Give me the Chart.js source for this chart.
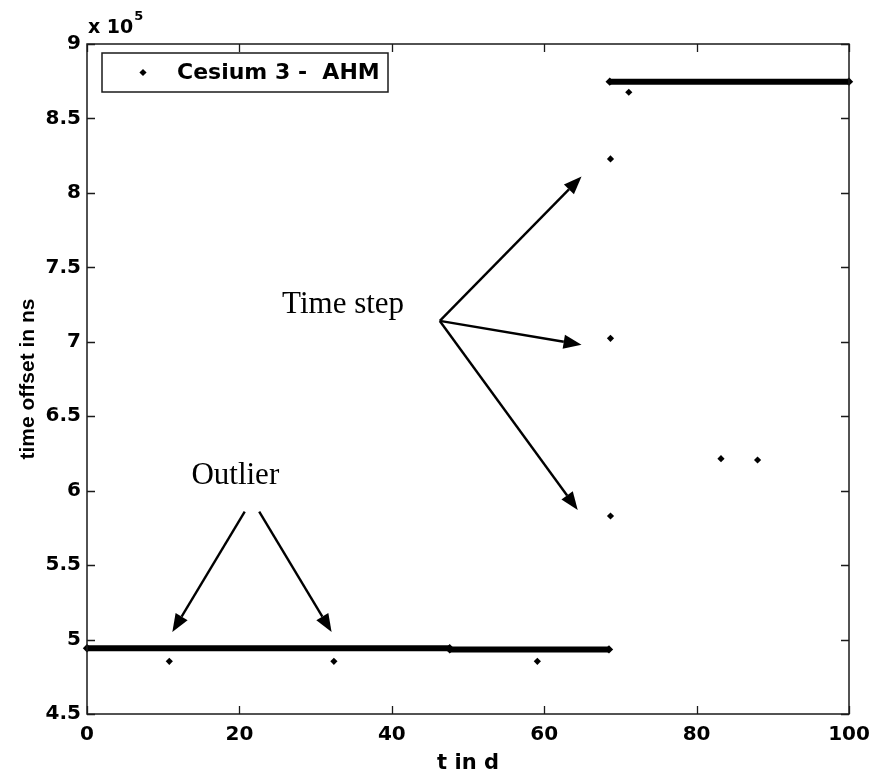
<!DOCTYPE html>
<html>
<head>
<meta charset="utf-8">
<script src="https://cdn.jsdelivr.net/npm/chart.js@4.4.1/dist/chart.umd.min.js"></script>
<style>
html,body{margin:0;padding:0;background:#fff;}
#wrap{width:872px;height:780px;position:relative;}
</style>
</head>
<body>
<div id="wrap"><canvas id="c" width="872" height="780"></canvas></div>
<script>
// ---- Data (time offset in units of 1e5 ns, t in days) ----
const seriesLabel = 'Cesium 3 -  AHM';
// dense runs of daily readings, drawn as thick bands (start day, end day, offset)
const bandStartDay = [0, 47.6, 68.6];
const bandEndDay   = [47.6, 68.5, 100];
const bandOffset   = [4.942, 4.934, 8.747];
// isolated readings
const pointDay    = [10.8, 32.4, 59.1, 68.7, 68.7, 68.7, 71.1, 83.2, 88.0];
const pointOffset = [4.854, 4.854, 4.854, 5.83, 7.023, 8.228, 8.676, 6.215, 6.206];
// axis ticks
const xTicks = [0, 20, 40, 60, 80, 100];
const yTicks = [4.5, 5, 5.5, 6, 6.5, 7, 7.5, 8, 8.5, 9];
// annotations: arrows in data coordinates [fromDay, fromOffset, toDay, toOffset]
const timeStepText = 'Time step';
const timeStepAt = [25.6, 7.193];
const timeStepArrows = [
  [46.3, 7.14, 64.9, 8.11],
  [46.3, 7.14, 64.9, 6.98],
  [46.3, 7.14, 64.4, 5.87]
];
const outlierText = 'Outlier';
const outlierAt = [13.7, 6.045];
const outlierArrows = [
  [20.7, 5.86, 11.2, 5.05],
  [22.6, 5.86, 32.1, 5.05]
];

const LEFT = 87, RIGHT = 849, TOP = 44, BOTTOM = 714;
const boldSans = 'DejaVu Sans, Verdana, sans-serif';
const tickFont = {family: boldSans, size: 20, weight: 'bold'};

const datasets = [];
datasets.push({
  type: 'scatter',
  label: seriesLabel,
  data: pointDay.map((d, i) => ({x: d, y: pointOffset[i]})),
  pointStyle: 'rectRot',
  radius: 3.6,
  backgroundColor: '#000',
  borderColor: '#000',
  borderWidth: 0,
  clip: false
});
bandStartDay.forEach((s, i) => {
  datasets.push({
    type: 'line',
    label: seriesLabel + ' band ' + (i + 1),
    data: [{x: s, y: bandOffset[i]}, {x: bandEndDay[i], y: bandOffset[i]}],
    borderColor: '#000',
    backgroundColor: '#000',
    borderWidth: 6,
    pointStyle: 'rectRot',
    pointRadius: 4.2,
    pointBorderWidth: 0,
    borderCapStyle: 'butt',
    clip: false
  });
});

function arrow(ctx, x1, y1, x2, y2) {
  const ang = Math.atan2(y2 - y1, x2 - x1);
  const hl = 18, hw = 7;
  const bx = x2 - hl * Math.cos(ang), by = y2 - hl * Math.sin(ang);
  ctx.beginPath();
  ctx.moveTo(x1, y1);
  ctx.lineTo(bx, by);
  ctx.stroke();
  ctx.beginPath();
  ctx.moveTo(x2, y2);
  ctx.lineTo(bx + hw * Math.sin(ang), by - hw * Math.cos(ang));
  ctx.lineTo(bx - hw * Math.sin(ang), by + hw * Math.cos(ang));
  ctx.closePath();
  ctx.fill();
}

const decor = {
  id: 'decor',
  afterDraw(chart) {
    const ctx = chart.ctx, xs = chart.scales.x, ys = chart.scales.y;
    const a = chart.chartArea;
    ctx.save();
    // frame
    ctx.strokeStyle = '#1a1a1a';
    ctx.lineWidth = 1.5;
    ctx.strokeRect(a.left, a.top, a.right - a.left, a.bottom - a.top);
    // inward ticks
    ctx.lineWidth = 1.3;
    ctx.beginPath();
    xTicks.forEach(v => {
      const px = Math.round(xs.getPixelForValue(v)) + 0.5;
      ctx.moveTo(px, a.bottom); ctx.lineTo(px, a.bottom - 8);
      ctx.moveTo(px, a.top); ctx.lineTo(px, a.top + 8);
    });
    yTicks.forEach(v => {
      const py = Math.round(ys.getPixelForValue(v)) + 0.5;
      ctx.moveTo(a.left, py); ctx.lineTo(a.left + 8, py);
      ctx.moveTo(a.right, py); ctx.lineTo(a.right - 8, py);
    });
    ctx.stroke();
    // exponent label
    ctx.fillStyle = '#000';
    ctx.font = 'bold 19px ' + boldSans;
    ctx.textBaseline = 'alphabetic';
    ctx.textAlign = 'left';
    ctx.fillText('x 10', a.left + 1, a.top - 11);
    const w = ctx.measureText('x 10').width;
    ctx.font = 'bold 13px ' + boldSans;
    ctx.fillText('5', a.left + 2 + w, a.top - 24);
    // arrows
    ctx.strokeStyle = '#000';
    ctx.fillStyle = '#000';
    ctx.lineWidth = 2.4;
    [...timeStepArrows, ...outlierArrows].forEach(r => {
      arrow(ctx, xs.getPixelForValue(r[0]), ys.getPixelForValue(r[1]),
                 xs.getPixelForValue(r[2]), ys.getPixelForValue(r[3]));
    });
    // annotation texts
    ctx.font = '31px Liberation Serif, Times New Roman, serif';
    ctx.textAlign = 'left';
    ctx.textBaseline = 'alphabetic';
    ctx.fillText(timeStepText, xs.getPixelForValue(timeStepAt[0]), ys.getPixelForValue(timeStepAt[1]));
    ctx.fillText(outlierText, xs.getPixelForValue(outlierAt[0]), ys.getPixelForValue(outlierAt[1]));
    // legend box
    const lx = 102, ly = 53, lw = 286, lh = 39;
    ctx.fillStyle = '#fff';
    ctx.fillRect(lx, ly, lw, lh);
    ctx.strokeStyle = '#1a1a1a';
    ctx.lineWidth = 1.5;
    ctx.strokeRect(lx, ly, lw, lh);
    ctx.fillStyle = '#000';
    ctx.beginPath();
    const mx = 143, my = 72.5, r = 3.6;
    ctx.moveTo(mx, my - r); ctx.lineTo(mx + r, my); ctx.lineTo(mx, my + r); ctx.lineTo(mx - r, my); ctx.closePath();
    ctx.fill();
    ctx.font = 'bold 22px ' + boldSans;
    ctx.textBaseline = 'middle';
    ctx.fillText(chart.data.datasets[0].label, 177, 73);
    ctx.restore();
  }
};

new Chart(document.getElementById('c'), {
  data: {datasets},
  options: {
    responsive: false,
    animation: false,
    events: [],
    layout: {padding: {top: TOP, right: 872 - RIGHT, left: 0, bottom: 0}},
    plugins: {legend: {display: false}, tooltip: {enabled: false}},
    scales: {
      x: {
        type: 'linear', min: 0, max: 100,
        afterBuildTicks: s => { s.ticks = xTicks.map(v => ({value: v})); },
        afterFit: s => { s.height = 780 - BOTTOM; s.paddingLeft = 0; s.paddingRight = 0; },
        grid: {display: false, drawTicks: false},
        border: {display: false},
        ticks: {color: '#000', font: tickFont, padding: 9, maxRotation: 0, callback: v => String(v)},
        title: {display: true, text: 't in d', color: '#000', font: {family: boldSans, size: 21, weight: 'bold'}, padding: {top: 0, bottom: 4}}
      },
      y: {
        type: 'linear', min: 4.5, max: 9,
        afterBuildTicks: s => { s.ticks = yTicks.map(v => ({value: v})); },
        afterFit: s => { s.width = LEFT; s.paddingTop = 0; s.paddingBottom = 0; },
        grid: {display: false, drawTicks: false},
        border: {display: false},
        ticks: {color: '#000', font: tickFont, padding: 6, callback: v => String(v)},
        title: {display: true, text: 'time offset in ns', color: '#000', font: {family: 'Liberation Sans, Arial, sans-serif', size: 21, weight: 'bold'}, padding: {top: 16, bottom: 3}}
      }
    }
  },
  plugins: [decor]
});
</script>
</body>
</html>
